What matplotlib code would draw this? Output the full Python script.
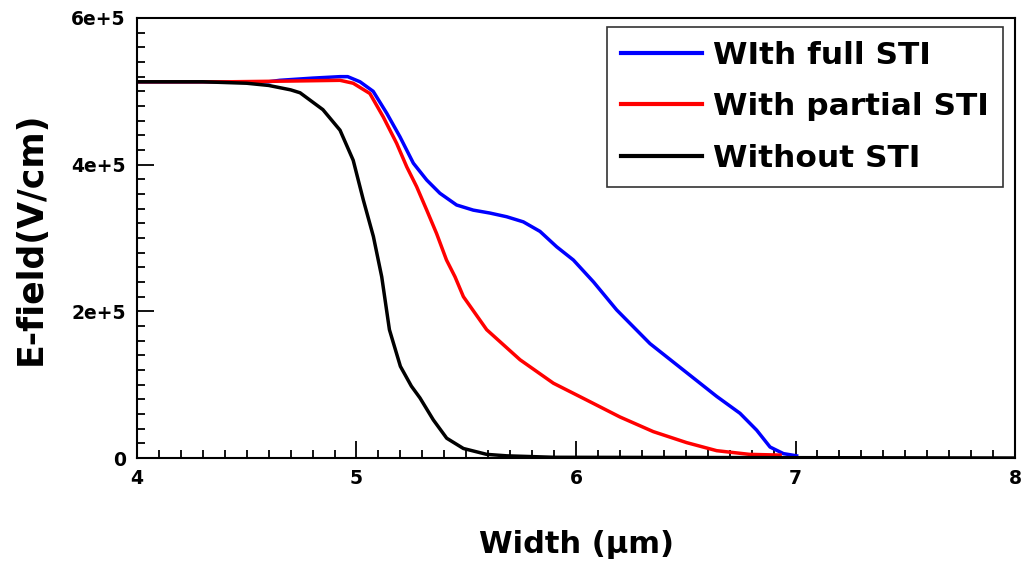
import matplotlib
matplotlib.use("Agg")
import matplotlib.pyplot as plt
from matplotlib.ticker import MultipleLocator, FixedLocator, FixedFormatter

# Data
full_x = [4.0, 4.3, 4.6, 4.65, 4.8, 4.925, 4.96, 5.016, 5.076, 5.138, 5.198, 5.259, 5.32, 5.38,
          5.456, 5.532, 5.608, 5.684, 5.76, 5.836, 5.912, 5.988, 6.08, 6.185, 6.337, 6.489,
          6.641, 6.747, 6.823, 6.884, 6.945, 7.005]
full_y = [5.13e5, 5.13e5, 5.13e5, 5.15e5, 5.18e5, 5.20e5, 5.20e5, 5.13e5, 5.00e5, 4.70e5, 4.38e5,
          4.02e5, 3.79e5, 3.61e5, 3.45e5, 3.38e5, 3.34e5, 3.29e5, 3.22e5, 3.09e5, 2.88e5,
          2.70e5, 2.40e5, 2.02e5, 1.56e5, 1.20e5, 0.84e5, 0.61e5, 0.38e5, 0.15e5, 0.06e5, 0.03e5]

partial_x = [4.0, 4.42, 4.7, 4.925, 4.985, 5.061, 5.122, 5.183, 5.229, 5.274, 5.32, 5.365,
             5.41, 5.449, 5.487, 5.593, 5.745, 5.897, 6.049, 6.20, 6.352, 6.504, 6.641, 6.79, 6.93]
partial_y = [5.13e5, 5.13e5, 5.14e5, 5.15e5, 5.11e5, 4.97e5, 4.65e5, 4.29e5, 3.97e5, 3.70e5,
             3.38e5, 3.06e5, 2.70e5, 2.47e5, 2.20e5, 1.75e5, 1.34e5, 1.02e5, 0.79e5, 0.56e5,
             0.36e5, 0.21e5, 0.10e5, 0.05e5, 0.04e5]

without_x = [4.0, 4.3, 4.5, 4.6, 4.7, 4.743, 4.847, 4.925, 4.985, 5.031, 5.077, 5.115, 5.15,
             5.20, 5.25, 5.289, 5.35, 5.411, 5.487, 5.593, 5.684, 5.9, 8.0]
without_y = [5.13e5, 5.13e5, 5.11e5, 5.08e5, 5.02e5, 4.98e5, 4.75e5, 4.47e5, 4.06e5, 3.52e5,
             3.02e5, 2.47e5, 1.75e5, 1.25e5, 0.98e5, 0.82e5, 0.52e5, 0.27e5, 0.13e5, 0.05e5,
             0.03e5, 0.01e5, 0.0]

labels = ["WIth full STI", "With partial STI", "Without STI"]
colors = ["#0000ff", "#ff0000", "#000000"]

yticks = [0, 2e5, 4e5, 6e5]
ytick_labels = ["0", "2e+5", "4e+5", "6e+5"]
xticks = [4, 5, 6, 7, 8]

fig = plt.figure(figsize=(10.23, 5.67), dpi=100)
ax = fig.add_axes([0.1339, 0.1922, 0.8583, 0.7761])

for xs, ys, lab, c in zip([full_x, partial_x, without_x], [full_y, partial_y, without_y], labels, colors):
    ax.plot(xs, ys, color=c, lw=2.5, label=lab, solid_joinstyle="round")

ax.set_xlim(4, 8)
ax.set_ylim(0, 6e5)
ax.xaxis.set_major_locator(FixedLocator(xticks))
ax.xaxis.set_minor_locator(MultipleLocator(0.1))
ax.yaxis.set_major_locator(FixedLocator(yticks))
ax.yaxis.set_major_formatter(FixedFormatter(ytick_labels))
ax.yaxis.set_minor_locator(MultipleLocator(2e4))
ax.tick_params(which="both", direction="in", top=False, right=False, width=1.3, colors="black")
ax.tick_params(which="major", length=12, labelsize=13.5, pad=8)
ax.tick_params(which="minor", length=5.8)
for lab in ax.get_xticklabels() + ax.get_yticklabels():
    lab.set_fontweight("bold")
for s in ax.spines.values():
    s.set_linewidth(1.5)

ax.set_xlabel("Width (µm)", fontsize=22, fontweight="bold", labelpad=30)
ax.set_ylabel("E-field(V/cm)", fontsize=25, fontweight="bold", labelpad=17)

leg = ax.legend(loc="upper right", bbox_to_anchor=(0.9863, 0.98), fontsize=22.5, frameon=True,
                fancybox=False, edgecolor="black", handlelength=2.6, handletextpad=0.35,
                borderpad=0.45, labelspacing=0.72, borderaxespad=0)
leg.get_frame().set_linewidth(1.2)
for t in leg.get_texts():
    t.set_fontweight("bold")
for h in leg.get_lines():
    h.set_linewidth(3)

fig.savefig("out.png", dpi=100)
